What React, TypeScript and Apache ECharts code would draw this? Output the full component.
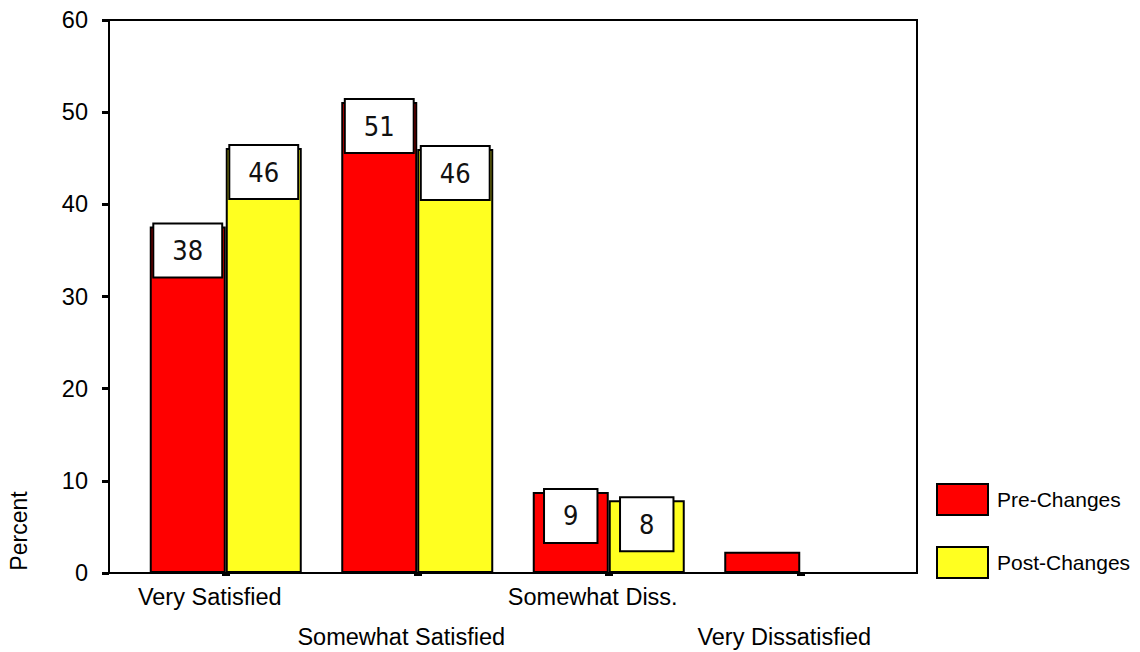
import React, { useEffect, useRef } from "react";
import * as echarts from "echarts";

const categories = ["Very Satisfied", "Somewhat Satisfied", "Somewhat Diss.", "Very Dissatisfied"];
const preChanges = [37.6, 51.1, 8.8, 2.3];
const postChanges: (number | null)[] = [46.1, 46.0, 7.9, null];
const preLabelShown = [true, true, true, false];
const yTicks = [0, 10, 20, 30, 40, 50, 60];
const seriesNames = ["Pre-Changes", "Post-Changes"];

const FONT = "'Liberation Sans', Arial, sans-serif";
const NARROW = "'DejaVu Sans Condensed', 'DejaVu Sans', sans-serif";

export default function App() {
  const ref = useRef<HTMLDivElement>(null);
  useEffect(() => {
    if (!ref.current) return;
    const chart = echarts.init(ref.current, null, { renderer: "svg" });
    const boxLabel = {
      show: true,
      position: "insideTop",
      distance: -2,
      formatter: (p: any) => String(Math.round(p.value)),
      fontFamily: NARROW,
      fontSize: 27,
      lineHeight: 28,
      color: "#111",
      backgroundColor: "#fff",
      borderColor: "#000",
      borderWidth: 2,
      padding: [12, 18, 12, 18],
    };
    chart.setOption({
      animation: false,
      backgroundColor: "#fff",
      grid: { left: 130, right: 244, top: 20, bottom: 79, containLabel: false, outerBoundsMode: "none" },
      legend: {
        orient: "vertical",
        left: 936,
        top: 483,
        padding: 0,
        itemWidth: 51,
        itemHeight: 31,
        itemGap: 30,
        icon: "rect",
        data: seriesNames,
        textStyle: { fontFamily: FONT, fontSize: 21, color: "#000", padding: [0, 0, 0, 4] },
      },
      xAxis: {
        type: "category",
        data: categories,
        axisLine: { show: false },
        axisTick: { show: true, alignWithLabel: true, length: 3, lineStyle: { color: "#000", width: 8 } },
        axisLabel: {
          interval: 0,
          hideOverlap: false,
          margin: 4,
          fontFamily: FONT,
          fontSize: 23.5,
          lineHeight: 40,
          color: "#000",
          padding: [0, 32, 0, 0],
          formatter: (v: string, i: number) => (i % 2 ? "\n" + v : v),
        },
        splitLine: { show: false },
      },
      yAxis: {
        type: "value",
        min: yTicks[0],
        max: yTicks[yTicks.length - 1],
        interval: 10,
        offset: 21,
        axisLine: { show: false },
        axisTick: { show: true, length: 7, lineStyle: { color: "#000", width: 3 } },
        axisLabel: { margin: 21, fontFamily: FONT, fontSize: 23.5, color: "#000" },
        splitLine: { show: false },
      },
      graphic: [
        {
          type: "rect",
          shape: { x: 109, y: 20, width: 808, height: 553 },
          style: { fill: "none", stroke: "#000", lineWidth: 2 },
          z: 10,
          silent: true,
        },
        {
          type: "text",
          x: 19,
          y: 531,
          rotation: Math.PI / 2,
          style: {
            text: "Percent",
            fontFamily: FONT,
            fontSize: 23,
            fill: "#000",
            align: "center",
            verticalAlign: "middle",
          },
        },
      ],
      series: [
        {
          name: seriesNames[0],
          type: "bar",
          barWidth: 76,
          barGap: "0%",
          itemStyle: { color: "#ff0000", borderColor: "#000", borderWidth: 2 },
          label: boxLabel,
          data: preChanges.map((v, i) => ({ value: v, label: { show: preLabelShown[i] } })),
        },
        {
          name: seriesNames[1],
          type: "bar",
          barWidth: 76,
          barGap: "0%",
          itemStyle: { color: "#ffff20", borderColor: "#000", borderWidth: 2 },
          label: boxLabel,
          data: postChanges,
        },
      ],
    });
    return () => chart.dispose();
  }, []);
  return <div ref={ref} style={{ width: 1140, height: 652, position: "absolute", left: 0, top: 0 }} />;
}
